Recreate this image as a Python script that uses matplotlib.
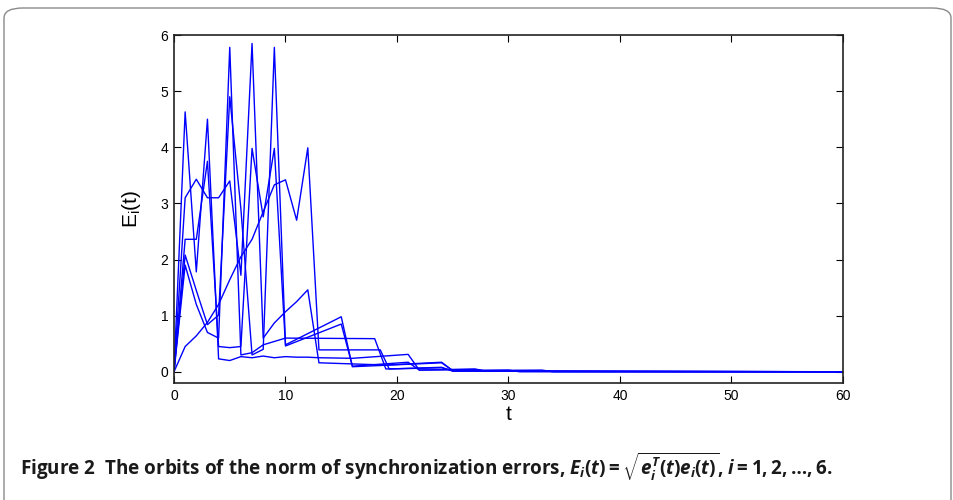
import matplotlib
matplotlib.use("Agg")
import matplotlib.pyplot as plt
from matplotlib.patches import FancyBboxPatch

# ---- data ----
t1 = [0, 1, 2, 3, 4, 5, 6, 7, 8, 9, 10, 11, 12, 13, 16, 21, 22, 27, 28, 60]
e1 = [0, 4.63, 1.78, 4.50, 0.23, 0.20, 0.27, 0.25, 0.28, 0.25, 0.27, 0.26, 0.26, 0.25, 0.24, 0.31, 0.03, 0.05, 0.01, 0.0]

t2 = [0, 1, 2, 3, 4, 5, 6, 7, 8, 9, 10, 15, 16, 21, 22, 27, 28, 60]
e2 = [0, 2.36, 2.36, 3.75, 0.45, 0.43, 0.45, 3.98, 2.76, 3.98, 0.46, 0.85, 0.10, 0.17, 0.03, 0.04, 0.01, 0.0]

t3 = [0, 1, 2, 3, 4, 5, 6, 7, 8, 9, 10, 11, 12, 13, 16, 19, 24, 25, 33, 34, 60]
e3 = [0, 3.10, 3.43, 3.10, 3.10, 3.40, 1.72, 5.85, 0.60, 0.87, 1.07, 1.25, 1.46, 0.16, 0.14, 0.12, 0.17, 0.02, 0.03, 0.0, 0.0]

t4 = [0, 1, 2, 3, 4, 5, 6, 7, 8, 9, 10, 11, 12, 13, 18.5, 19.3, 24, 25, 60]
e4 = [0, 0.45, 0.64, 0.88, 1.20, 1.64, 2.05, 2.36, 2.85, 3.33, 3.42, 2.70, 3.99, 0.39, 0.39, 0.05, 0.08, 0.01, 0.0]

t5 = [0, 1, 2, 3, 4, 5, 6, 7, 8, 9, 10, 15, 16, 24, 25, 30, 31, 60]
e5 = [0, 2.08, 1.45, 0.84, 1.01, 4.90, 2.90, 0.30, 0.40, 5.78, 0.48, 0.98, 0.09, 0.16, 0.02, 0.03, 0.0, 0.0]

t6 = [0, 1, 2, 3, 4, 5, 6, 7, 8, 9, 10, 18, 19, 24, 25, 60]
e6 = [0, 1.90, 1.20, 0.70, 0.60, 5.78, 0.30, 0.34, 0.48, 0.54, 0.60, 0.59, 0.05, 0.07, 0.02, 0.0]

series = [(t1, e1), (t2, e2), (t3, e3), (t4, e4), (t5, e5), (t6, e6)]

xticks = [0, 10, 20, 30, 40, 50, 60]
yticks = [0, 1, 2, 3, 4, 5, 6]

plt.rcParams['font.family'] = ['Liberation Sans', 'DejaVu Sans']
plt.rcParams['mathtext.fontset'] = 'custom'
plt.rcParams['mathtext.rm'] = 'Open Sans:bold'
plt.rcParams['mathtext.it'] = 'Open Sans:italic:bold'
plt.rcParams['mathtext.bf'] = 'Open Sans:bold'

fig = plt.figure(figsize=(9.54, 5.0), dpi=100)

# rounded frame around the figure
box = FancyBboxPatch((4/954, -0.05), (951-4)/954, 1.05 - 8/500,
                     boxstyle="round,pad=0,rounding_size=0.02",
                     transform=fig.transFigure, fill=False,
                     edgecolor='#8a8a8a', linewidth=1.0)
fig.patches.append(box)

ax = fig.add_axes([174/954, 1 - 383/500, (843 - 174)/954, (383 - 35)/500])
for tt, ee in series:
    ax.plot(tt, ee, color='#0000ff', linewidth=1.0)

ax.set_xlim(0, 60)
ax.set_ylim(-0.2, 6)
ax.set_xticks(xticks)
ax.set_yticks(yticks)
ax.tick_params(direction='in', top=True, right=True, length=5, width=0.8,
               labelsize=10, pad=4)
for s in ax.spines.values():
    s.set_linewidth(1.2)
    s.set_color('#222222')

ax.set_xlabel('t', fontsize=15, labelpad=2)
ax.set_ylabel(r'$\mathregular{E_i(t)}$', fontsize=15, labelpad=13)

fig.text(20/954, 1 - 467/500,
         r"Figure 2  The orbits of the norm of synchronization errors, "
         r"$E_i(t)=\sqrt{e_i^T(t)e_i(t)}$, $i=1,2,\ldots,6$.",
         fontsize=13.6, fontweight='bold', family='Open Sans',
         va='center', ha='left', color='#1a1a1a')

fig.savefig('out.png', dpi=100)
